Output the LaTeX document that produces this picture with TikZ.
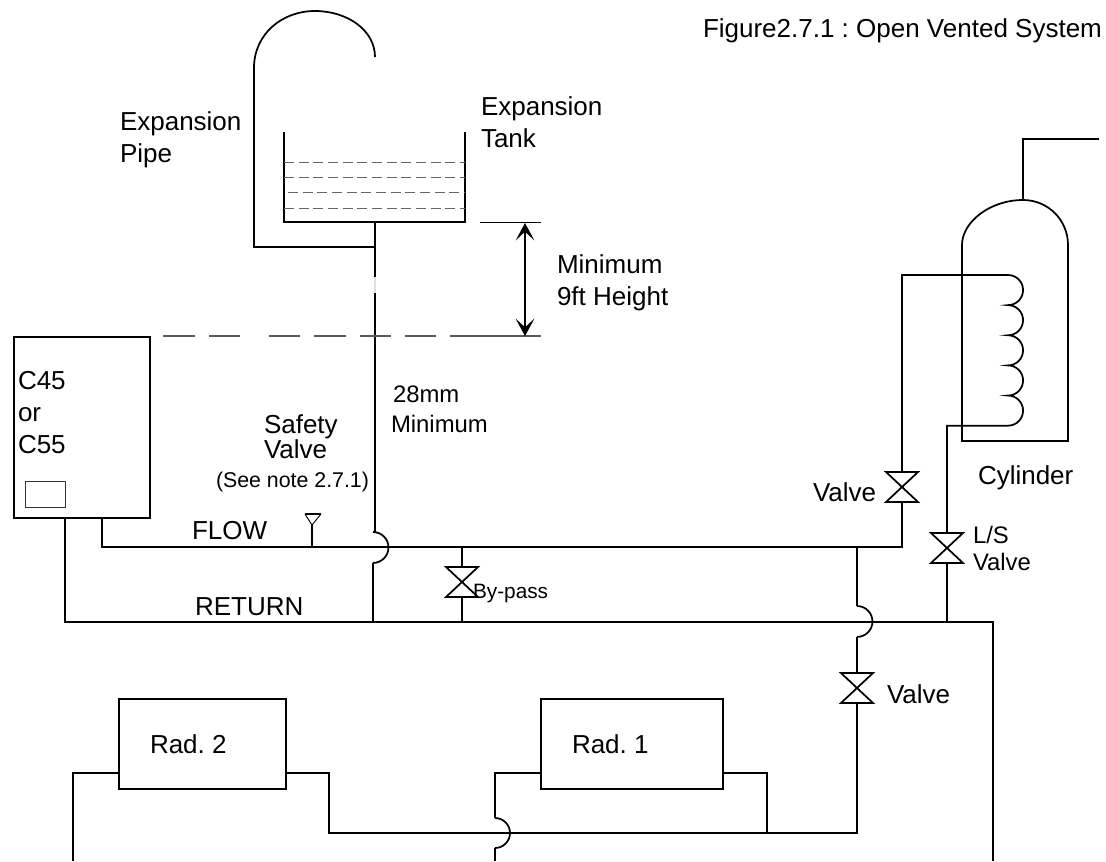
\documentclass[tikz,border=0pt]{standalone}
\usepackage{fontspec}
\setmainfont{Liberation Sans}
\usetikzlibrary{arrows.meta}
\tikzset{
  x=0.75pt, y=-0.75pt,
  pipe/.style={draw=black, line width=1.3pt, line join=miter},
  thinln/.style={draw=black, line width=0.7pt},
  level/.style={draw=black!60, line width=0.6pt, dash pattern=on 7.5pt off 3.5pt},
  datum/.style={draw=black!65, line width=0.9pt},
  lab/.style={anchor=base west, inner sep=0pt, outer sep=0pt, font=\fontsize{19.5}{22}\selectfont},
  labs/.style={lab, font=\fontsize{17.9}{20}\selectfont},
  labt/.style={lab, font=\fontsize{16}{18}\selectfont},
  labb/.style={lab, font=\fontsize{15.6}{18}\selectfont},
  box/.style={draw=black, line width=1.3pt, inner sep=0pt, anchor=north west},
  dimtip/.tip={Stealth[length=13pt,width=14pt,inset=6.5pt]},
  valve/.pic={
    \draw[pipe] (-16,-15) -- (16,-15) -- (-16,15) -- (16,15) -- cycle;
    \coordinate (-t) at (0,-15);
    \coordinate (-b) at (0,15);
  }
}
\begin{document}
\frenchspacing
\begin{tikzpicture}
\useasboundingbox (0,0) rectangle (1106,861);

% ---- named junctions
\coordinate (flowL)   at (102,547);
\coordinate (flowR)   at (902,547);
\coordinate (retL)    at (65,622);
\coordinate (retR)    at (993,622);
\coordinate (tankB)   at (375,222);
\coordinate (pipeJ)   at (375,247);

% ---- expansion tank and pipe
\draw[pipe] (284,132) -- (284,222) -- (465,222) -- (465,132);
\draw[level] (284,162) -- (465,162);
\draw[level] (284,177) -- (465,177);
\draw[level] (288,192) -- (465,192);
\draw[level] (284,208) -- (465,208);
\draw[pipe] (pipeJ) -- (254,247) -- (254,68)
  .. controls (254,34) and (282,11) .. (315,11)
  .. controls (347,11) and (375,30) .. (375,57);
\draw[pipe] (tankB) -- (375,277);
\draw[pipe, draw=black!12] (375,277) -- (375,293);
\draw[pipe] (375,293) -- (375,532);
\draw[pipe] (373,532) arc[start angle=90, end angle=-90, radius=11.6pt];
\draw[pipe] (373,563) -- (373,622);

% ---- datum and height dimension
\foreach \a/\b in {163/195,209/240,269/300,314/346,360/391,405/436,450/480}
  \draw[datum] (\a,336) -- (\b,336);
\draw[datum] (480,336) -- (541,336);
\draw[thinln] (480,222) -- (541,222);
\coordinate (dimT) at (525,223);
\coordinate (dimB) at (525,336);
\draw[draw=black, line width=0.8pt, dimtip-dimtip] (dimT) -- (dimB);

% ---- boiler
\node[box, minimum width=102pt, minimum height=135.75pt] (boiler) at (13,336) {};
\node[draw=black!80, line width=0.6pt, inner sep=0pt, anchor=north west, minimum width=30pt, minimum height=19.5pt] (panel) at (25,481) {};

% ---- flow and return
\draw[pipe] (102,517) -- (flowL) -- (373,547);
\draw[pipe] (373,547) -- (flowR) -- (902,502);
\draw[pipe] (65,517) -- (retL) -- (retR) -- (993,861);

% ---- safety valve
\draw[pipe] (312,547) -- (312,525);
\draw[thinln] (305,514) -- (312,525) -- (321,514);
\draw[pipe] (305,514) -- (321,514);

% ---- by-pass
\pic (vb) at (462,582) {valve};
\draw[pipe] (462,547) -- (vb-t);
\draw[pipe] (vb-b) -- (462,622);

% ---- cylinder
\draw[pipe] (1099,139) -- (1023,139) -- (1023,200);
\draw[pipe] (962,245) .. controls (962,222) and (990,200) .. (1023,200)
  .. controls (1048,200) and (1068,220) .. (1068,245)
  -- (1068,441) -- (962,441) -- cycle;
\draw[pipe] (902,472) -- (902,275) -- (1008,275)
  arc[start angle=90, end angle=-90, radius=11.3pt]
  arc[start angle=90, end angle=-90, radius=11.3pt]
  arc[start angle=90, end angle=-90, radius=11.3pt]
  arc[start angle=90, end angle=-90, radius=11.3pt]
  arc[start angle=90, end angle=-90, radius=11.3pt]
  -- (947,425.7) -- (947,533);
\pic (v1) at (902,487) {valve};
\pic (v2) at (947,548) {valve};
\draw[pipe] (v2-b) -- (947,622);

% ---- branch to radiators
\draw[pipe] (857,547) -- (857,606);
\draw[pipe] (857,606) arc[start angle=90, end angle=-90, radius=11.6pt];
\draw[pipe] (857,637) -- (857,673);
\pic (v3) at (857,688) {valve};
\draw[pipe] (v3-b) -- (857,833) -- (329,833) -- (329,773) -- (285,773);

% ---- radiators
\node[box, minimum width=125.25pt, minimum height=67.5pt] (rad2) at (118,698) {};
\node[box, minimum width=136.5pt, minimum height=67.5pt] (rad1) at (540,698) {};
\draw[pipe] (118,773) -- (73,773) -- (73,861);
\draw[pipe] (722,773) -- (767,773) -- (767,833);
\draw[pipe] (540,773) -- (495,773) -- (495,818);
\draw[pipe] (495,818) arc[start angle=90, end angle=-90, radius=11.25pt];
\draw[pipe] (495,848) -- (495,861);

% ---- labels
\node[lab] (title) at (703,37) {Figure2.7.1 : Open Vented System};
\node[lab] (l1) at (120,130) {Expansion};
\node[lab] (l2) at (120,162) {Pipe};
\node[lab] (l3) at (481,115) {Expansion};
\node[lab] (l4) at (481,147) {Tank};
\node[lab] (l5) at (557,273) {Minimum};
\node[lab] (l6) at (557,305) {9ft Height};
\node[lab] (l7) at (18,389) {C45};
\node[lab] (l8) at (18,421) {or};
\node[lab] (l9) at (18,453) {C55};
\node[labs] (l10) at (393,402) {28mm};
\node[labs] (l11) at (391,432) {Minimum};
\node[lab] (l12) at (264,433) {Safety};
\node[lab] (l13) at (264,458) {Valve};
\node[labt] (l14) at (216,487) {(See note 2.7.1)};
\node[lab] (l15) at (192,539) {FLOW};
\node[lab] (l16) at (195,615) {RETURN};
\node[labb] (l17) at (473,598) {By-pass};
\node[lab] (l18) at (978,484) {Cylinder};
\node[lab] (l19) at (813,501) {Valve};
\node[labs] (l20) at (973,543) {L/S};
\node[labs] (l21) at (973,570) {Valve};
\node[lab] (l22) at (887,703) {Valve};
\node[lab] (l23) at (150,753) {Rad. 2};
\node[lab] (l24) at (572,753) {Rad. 1};
\end{tikzpicture}
\end{document}
